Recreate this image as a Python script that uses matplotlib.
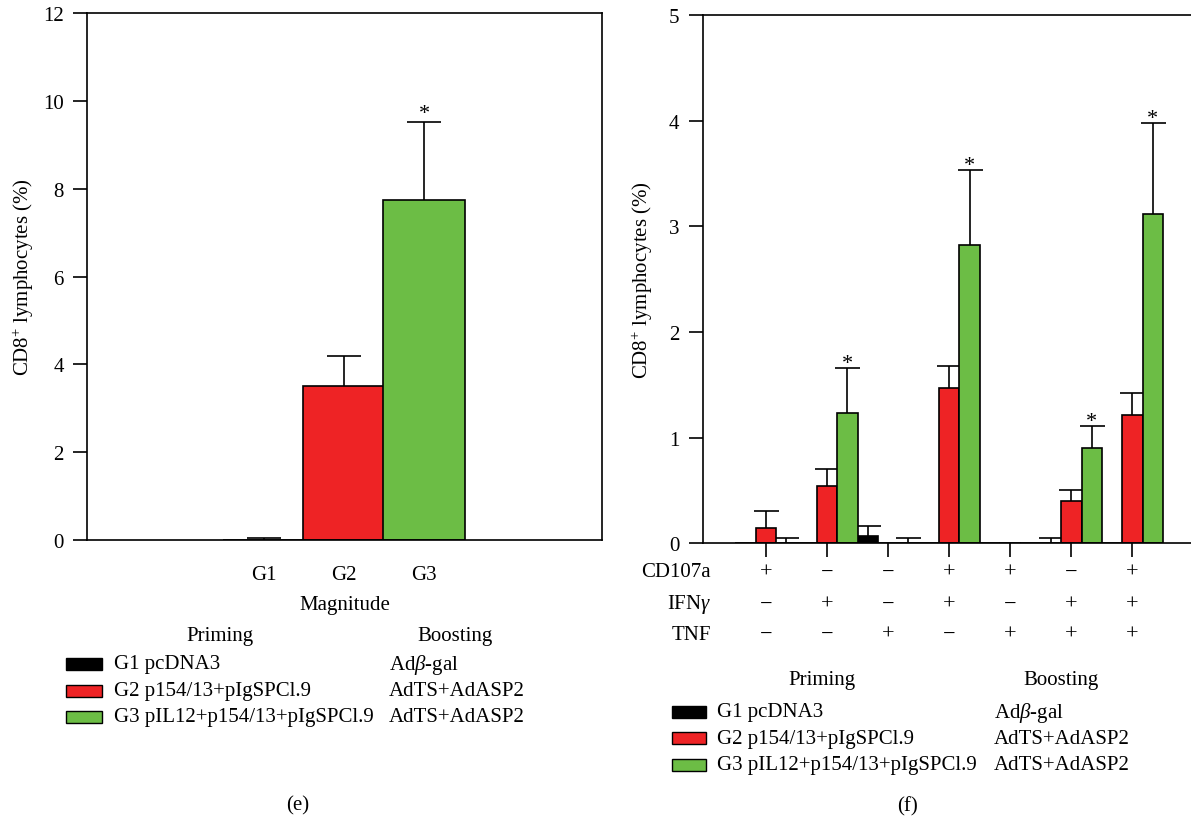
import matplotlib
matplotlib.use("Agg")
import matplotlib.pyplot as plt
import matplotlib.transforms as mtransforms
from matplotlib.patches import Rectangle
import numpy as np

plt.rcParams["font.family"] = ["Liberation Serif", "DejaVu Serif"]
plt.rcParams["mathtext.fontset"] = "custom"
plt.rcParams["mathtext.rm"] = "Liberation Serif"
plt.rcParams["mathtext.it"] = "Liberation Serif:italic"

nan = np.nan

# Panel (e): magnitud
grupos_e = ["G1", "G2", "G3"]
valores_e = [0.0, 3.50, 7.75]
errores_e = [0.05, 0.69, 1.76]
signif_e = [False, False, True]

# Panel (f): combinaciones de funciones
cd107a = ["+", "−", "−", "+", "+", "−", "+"]
ifng = ["−", "+", "−", "+", "−", "+", "+"]
tnf = ["−", "−", "+", "−", "+", "+", "+"]
g1_f = [0.0, 0.0, 0.07, 0.0, 0.0, 0.0, 0.0]
g1_err_f = [nan, nan, 0.095, nan, nan, 0.046, nan]
g2_f = [0.14, 0.54, 0.0, 1.47, -0.01, 0.40, 1.21]
g2_err_f = [0.165, 0.167, nan, 0.21, nan, 0.10, 0.21]
g3_f = [0.0, 1.23, 0.0, 2.82, 0.0, 0.90, 3.12]
g3_err_f = [0.046, 0.43, 0.046, 0.71, nan, 0.21, 0.86]
signif_f = [False, True, False, True, False, True, True]

colores = ["#000000", "#EE2325", "#6CBD45"]
priming = ["G1 pcDNA3", "G2 p154/13+pIgSPCl.9", "G3 pIL12+p154/13+pIgSPCl.9"]
boosting = [r"Ad$\it{\beta}$-gal", "AdTS+AdASP2", "AdTS+AdASP2"]

W, H = 1191, 820
FS = 15


def fx(px):
    return px / W


def fy(py):
    return 1 - py / H


def barras_error(ax, x, y, err, capsize):
    x = np.asarray(x, float)
    y = np.asarray(y, float)
    err = np.asarray(err, float)
    m = ~np.isnan(err)
    if not m.any():
        return
    eb = ax.errorbar(x[m], y[m], yerr=[np.zeros(m.sum()), err[m]], fmt="none",
                     ecolor="black", elinewidth=1.2, capsize=capsize,
                     capthick=1.2, zorder=1)
    eb[1][0].set_visible(False)  # solo barra superior


def estilo_ejes(ax):
    for s in ax.spines.values():
        s.set_linewidth(1.2)
    ax.tick_params(axis="y", direction="out", length=10, width=1.2,
                   labelsize=FS, pad=7)


def leyenda(x_patch, x_texto, x_boost, x_prim_c, x_boost_c, y_head, filas):
    fig.text(fx(x_prim_c), fy(y_head), "Priming", ha="center", va="center",
             fontsize=FS)
    fig.text(fx(x_boost_c), fy(y_head), "Boosting", ha="center", va="center",
             fontsize=FS)
    for i in range(3):
        fig.add_artist(Rectangle((fx(x_patch[0]), fy(filas[i] + 6)),
                                 fx(x_patch[1] - x_patch[0]), 12 / H,
                                 transform=fig.transFigure,
                                 facecolor=colores[i], edgecolor="black",
                                 linewidth=1.0))
        fig.text(fx(x_texto), fy(filas[i]), priming[i], ha="left",
                 va="center", fontsize=FS)
        fig.text(fx(x_boost), fy(filas[i]), boosting[i], ha="left",
                 va="center", fontsize=FS)


fig = plt.figure(figsize=(W / 100, H / 100), dpi=100)

# ---------------- Panel (e) ----------------
ax1 = fig.add_axes([fx(87.3), fy(541.3), fx(601.7 - 87.3), (541.3 - 13.8) / H])
xe = np.arange(len(grupos_e))
ax1.bar(xe, valores_e, width=1.03, color=colores, edgecolor="black",
        linewidth=1.2, zorder=2)
barras_error(ax1, xe, valores_e, errores_e, capsize=12)
for i in range(len(grupos_e)):
    if signif_e[i]:
        ax1.annotate("*", (xe[i], valores_e[i] + errores_e[i]),
                     xytext=(0, 3), textcoords="offset points",
                     ha="center", va="baseline", fontsize=FS + 1)
ax1.set_xlim(-2.21, 4.22)
ax1.set_ylim(0, 12)
ax1.set_yticks(np.arange(0, 13, 2))
ax1.set_xticks(xe)
ax1.set_xticklabels(grupos_e, fontsize=FS)
ax1.tick_params(axis="x", which="major", length=0, pad=18)
ax1.set_xticks([xe[1]], minor=True)
ax1.tick_params(axis="x", which="minor", length=10, width=1.2)
estilo_ejes(ax1)

fig.text(fx(23), fy(277), r"CD8$^{+}$ lymphocytes (%)", rotation=90,
         ha="center", va="center", fontsize=FS)
fig.text(fx(345), fy(606), "Magnitude", ha="center", va="center", fontsize=FS)
leyenda((66, 102), 114.3, 389, 220, 455, 637, [665, 691.7, 717.7])
fig.text(fx(298), fy(806), "(e)", ha="center", va="center", fontsize=FS)

# ---------------- Panel (f) ----------------
ax2 = fig.add_axes([fx(702.9), fy(544.2), fx(1205.8 - 702.9), (544.2 - 16.0) / H])
xf = np.arange(len(cd107a))
ancho = 1 / 3
series = [(g1_f, g1_err_f), (g2_f, g2_err_f), (g3_f, g3_err_f)]
for k, (vals, errs) in enumerate(series):
    pos = xf + (k - 1) * ancho
    ax2.bar(pos, vals, width=ancho, color=colores[k], edgecolor="black",
            linewidth=1.2, zorder=2)
    barras_error(ax2, pos, vals, errs, capsize=9)
for i in range(len(xf)):
    if signif_f[i]:
        ax2.annotate("*", (xf[i] + ancho, g3_f[i] + g3_err_f[i]),
                     xytext=(0, 0), textcoords="offset points",
                     ha="center", va="baseline", fontsize=FS + 1)
ax2.set_xlim(-1.031, 7.2)
ax2.set_ylim(0, 5)
ax2.set_yticks(np.arange(0, 6, 1))
ax2.set_xticks(xf)
ax2.set_xticklabels([])
ax2.tick_params(axis="x", length=10, width=1.2)
estilo_ejes(ax2)

trans = mtransforms.blended_transform_factory(ax2.transData, fig.transFigure)
filas_f = [("CD107a", cd107a, 573), (r"IFN$\it{\gamma}$", ifng, 605),
           ("TNF", tnf, 635.5)]
for nombre, signos, ypx in filas_f:
    fig.text(fx(711), fy(ypx), nombre, ha="right", va="center", fontsize=FS)
    for i, s in enumerate(signos):
        ax2.text(xf[i], fy(ypx), s, transform=trans, ha="center",
                 va="center", fontsize=FS + 1)

fig.text(fx(642), fy(280), r"CD8$^{+}$ lymphocytes (%)", rotation=90,
         ha="center", va="center", fontsize=FS)
leyenda((671.6, 706.3), 716.8, 993.9, 822, 1060.6, 681, [712.7, 739.3, 766])
fig.text(fx(907), fy(807), "(f)", ha="center", va="center", fontsize=FS)

fig.savefig("out.png", dpi=100)
